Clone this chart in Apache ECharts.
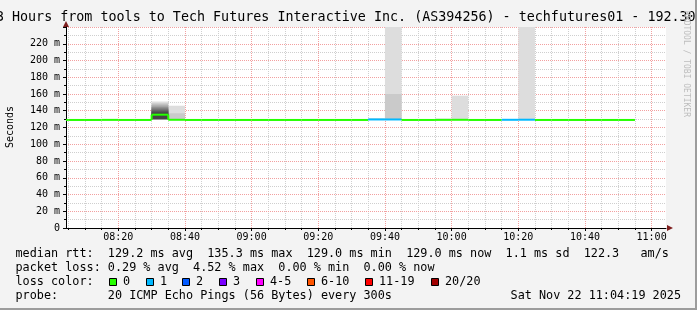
<!DOCTYPE html>
<html><head><meta charset="utf-8">
<script src="https://cdn.jsdelivr.net/npm/echarts@6/dist/echarts.min.js"></script>
<style>
html,body{margin:0;padding:0;background:#f3f3f3;}
#wrap{position:relative;width:697px;height:310px;overflow:hidden;}
#chart{width:697px;height:310px;}
#frame{position:absolute;left:0;top:0;width:697px;height:310px;box-sizing:border-box;border-right:2px solid #9c9c9c;border-bottom:2px solid #9c9c9c;pointer-events:none;}
</style></head><body>
<div id="wrap"><div id="chart"></div><div id="frame"></div></div>
<script>
// ---------- data ----------
const startTime = "08:04:19";           // left edge of the 3 hour window
const tickLabels = ["08:20","08:40","09:00","09:20","09:40","10:00","10:20","10:40","11:00"];
const stepLabels = ["08:00","08:05","08:10","08:15","08:20","08:25","08:30","08:35","08:40","08:45","08:50","08:55",
                    "09:00","09:05","09:10","09:15","09:20","09:25","09:30","09:35","09:40","09:45","09:50","09:55",
                    "10:00","10:05","10:10","10:15","10:20","10:25","10:30","10:35","10:40","10:45","10:50"];
const medianMs  = [129.0,129.0,129.0,129.1,129.0,129.0,135.3,129.2,129.0,129.0,129.0,129.0,
                   129.0,129.0,129.0,129.0,129.0,129.0,129.0,129.6,129.6,129.0,129.0,129.1,
                   129.2,129.0,129.0,129.2,129.3,129.0,129.0,129.0,129.0,129.0,129.0];
const lossCount = [0,0,0,0,0,0,0,0,0,0,0,0,
                   0,0,0,0,0,0,0,1,1,0,0,0,
                   0,0,0,1,1,0,0,0,0,0,0];
// sorted round-trip times (ms) of the 20 pings for the steps that show smoke
const smokeSteps = ["08:30","08:35","09:35","09:40","09:55","10:00","10:20"];
const smokePings = [
  [129.4,129.5,129.6,129.7,129.8,129.9,130.0,130.1,130.2,134.5,136.1,138.0,140.0,141.5,143.0,144.5,146.0,147.5,149.0,151.0],
  [128.9,129.0,129.0,129.1,129.1,129.1,129.1,129.2,129.2,129.2,129.2,129.3,129.3,129.3,129.4,129.4,129.5,129.6,137.0,146.0],
  [129.2,129.3,129.3,129.4,129.4,129.5,129.5,129.5,129.6,129.6,129.6,129.7,129.7,129.7,129.8,129.8,129.9,130.0,130.3,131.3],
  [129.2,129.3,129.3,129.4,129.4,129.5,129.5,129.5,129.6,129.6,129.6,129.7,129.7,129.7,129.8,129.8,129.9,130.0,160.0,320.0],
  [128.9,129.0,129.0,129.0,129.1,129.1,129.1,129.1,129.1,129.1,129.1,129.2,129.2,129.2,129.2,129.3,129.3,129.4,129.6,130.8],
  [128.9,129.0,129.0,129.1,129.1,129.1,129.2,129.2,129.2,129.2,129.2,129.3,129.3,129.3,129.4,129.4,129.5,129.6,130.0,158.0],
  [129.0,129.0,129.1,129.1,129.2,129.2,129.2,129.3,129.3,129.3,129.3,129.4,129.4,129.4,129.5,129.5,129.6,129.7,130.0,300.0]
];
const medianStats = ["129.2 ms avg","135.3 ms max","129.0 ms min","129.0 ms now","1.1 ms sd","122.3   am/s"];
const lossStats   = ["0.29 % avg","4.52 % max","0.00 % min","0.00 % now"];
const lossLabels  = ["0","1","2","3","4-5","6-10","11-19","20/20"];
const lossUpper   = [0,1,2,3,5,10,19,20];
const lossColors  = ["#26ff00","#00b8ff","#0059ff","#7a00ff","#ff00ff","#ff5500","#ff0000","#a10000"];
const probeText = "20 ICMP Echo Pings (56 Bytes) every 300s";
const dateText  = "Sat Nov 22 11:04:19 2025";
const titleText = "3 Hours from tools to Tech Futures Interactive Inc. (AS394256) - techfutures01 - 192.30.";

// ---------- helpers ----------
function toMin(s){ const p = s.split(':').map(Number); return (p[0]-8)*60 + p[1] + (p[2]||0)/60; }
const STEP = 5;
const xMin = toMin(startTime), xMax = xMin + 180;
const majorTicks = tickLabels.map(toMin);
const minorTicks = [];
for (let t = Math.ceil(xMin/STEP)*STEP; t <= xMax; t += STEP) minorTicks.push(t);
function fmt(v){ const h = 8 + Math.floor(Math.round(v)/60), m = Math.round(v)%60; return String(h).padStart(2,'0')+':'+String(m).padStart(2,'0'); }
function lossIdx(l){ for (let i=0;i<lossUpper.length;i++) if (l <= lossUpper[i]) return i; return lossUpper.length-1; }

const medianData = stepLabels.map((s,i)=>{ const t=toMin(s); return [t, t+STEP, medianMs[i], i>0?medianMs[i-1]:medianMs[i], lossCount[i]]; });
const smokeData = [];
smokeSteps.forEach((s,k)=>{
  const t=toMin(s), p=smokePings[k], n=p.length, half=n/2;
  for (let ibot=1; ibot<=half; ibot++){
    const shade = Math.floor(190/half*(half-ibot))+50;
    smokeData.push([t, t+STEP, p[ibot-1], p[n-ibot], shade, ibot]);
  }
});

const MONO = "'DejaVu Sans Mono', monospace";
const chart = echarts.init(document.getElementById('chart'), null, {renderer:'canvas'});
const minorGrid = {show:true, lineStyle:{color:'#cfcfcf', width:1, type:[1,1]}};
const majorGrid = {show:true, lineStyle:{color:'#f2a0a0', width:1, type:[1,1]}};

const graphics = [];
graphics.push({type:'text', x:-4.1, y:18, style:{text:titleText, font:"13.36px "+MONO, fill:'#000', align:'left', verticalAlign:'middle'}});
graphics.push({type:'text', x:10.5, y:127, rotation:Math.PI/2, style:{text:'Seconds', font:"10px "+MONO, fill:'#000', align:'center', verticalAlign:'middle'}});
graphics.push({type:'text', x:686.5, y:64, rotation:-Math.PI/2, style:{text:'RRDTOOL / TOBI OETIKER', font:"8px "+MONO, fill:'#bdbdbd', align:'center', verticalAlign:'middle'}});
const LF = "11.8px "+MONO, LX = 15.5;
graphics.push({type:'text', x:LX, y:254.3, style:{text:'median rtt:  '+medianStats.join('  '), font:LF, fill:'#000', align:'left', verticalAlign:'middle'}});
graphics.push({type:'text', x:LX, y:268.3, style:{text:'packet loss: '+lossStats.join('  '), font:LF, fill:'#000', align:'left', verticalAlign:'middle'}});
graphics.push({type:'text', x:LX, y:282.2, style:{text:'loss color:', font:LF, fill:'#000', align:'left', verticalAlign:'middle'}});
graphics.push({type:'text', x:LX, y:296.2, style:{text:'probe:       '+probeText, font:LF, fill:'#000', align:'left', verticalAlign:'middle'}});
graphics.push({type:'text', x:681, y:296.2, style:{text:dateText, font:LF, fill:'#000', align:'right', verticalAlign:'middle'}});
const sqX = [109,146,182,219,256,307,365,431];
lossLabels.forEach((lab,i)=>{
  graphics.push({type:'rect', shape:{x:sqX[i]+0.5, y:278.5, width:7, height:7}, style:{fill:lossColors[i], stroke:'#000', lineWidth:1}});
  graphics.push({type:'text', x:sqX[i]+14, y:282.2, style:{text:lab, font:LF, fill:'#000', align:'left', verticalAlign:'middle'}});
});

chart.setOption({
  animation:false,
  backgroundColor:'#f3f3f3',
  grid:{left:66, right:31, top:27, bottom:82, show:true, backgroundColor:'#ffffff', borderWidth:0, outerBoundsMode:'none', containLabel:false},
  xAxis:[
    {type:'value', min:xMin, max:xMax, position:'bottom', z:1,
     axisLine:{show:true, onZero:false, lineStyle:{color:'#000', width:1}},
     axisTick:{show:true, length:3, customValues:majorTicks, lineStyle:{color:'#000'}},
     axisLabel:{show:true, customValues:majorTicks, formatter:fmt, margin:4, color:'#000', fontFamily:MONO, fontSize:10},
     splitLine:majorGrid},
    {type:'value', min:xMin, max:xMax, position:'bottom', z:0,
     axisLine:{show:true, onZero:false, symbol:['none','triangle'], symbolSize:[6,6], symbolOffset:[0,4], lineStyle:{color:'#7f1f1f', width:0}},
     axisTick:{show:true, length:2, customValues:minorTicks, lineStyle:{color:'#000'}},
     axisLabel:{show:false}, splitLine:minorGrid}
  ],
  yAxis:[
    {type:'value', min:0, max:240, interval:20, position:'left', z:1,
     axisLine:{show:true, onZero:false, lineStyle:{color:'#000', width:1}},
     axisTick:{show:true, length:3, lineStyle:{color:'#000'}},
     minorTick:{show:true, splitNumber:2, length:2, lineStyle:{color:'#000'}},
     axisLabel:{show:true, margin:6, color:'#000', fontFamily:MONO, fontSize:10, formatter:v=> v===0?'0':(v>=240?'':v+' m')},
     splitLine:majorGrid, minorSplitLine:minorGrid},
    {type:'value', min:0, max:240, interval:20, position:'left', z:0,
     axisLine:{show:true, onZero:false, symbol:['none','triangle'], symbolSize:[6,6], symbolOffset:[0,3], lineStyle:{color:'#7f1f1f', width:0}},
     axisTick:{show:false}, axisLabel:{show:false}, splitLine:{show:false}}
  ],
  series:[
    {type:'custom', name:'smoke', xAxisIndex:0, yAxisIndex:0, clip:true, z:2, silent:true,
     data:smokeData,
     renderItem:function(params, api){
       const a = api.coord([api.value(0), api.value(3)]);
       const b = api.coord([api.value(1), api.value(2)]);
       const cs = params.coordSys;
       const r = echarts.graphic.clipRectByRect({x:a[0], y:a[1], width:b[0]-a[0], height:b[1]-a[1]}, {x:cs.x, y:cs.y, width:cs.width, height:cs.height});
       if (!r) return null;
       const g = api.value(4);
       return {type:'rect', z2:api.value(5), shape:r, style:{fill:'rgb('+g+','+g+','+g+')'}};
     }},
    {type:'custom', name:'median', xAxisIndex:0, yAxisIndex:0, clip:true, z:3, silent:true,
     data:medianData,
     renderItem:function(params, api){
       const t0=api.value(0), t1=api.value(1), v=api.value(2), pv=api.value(3);
       const color = lossColors[lossIdx(api.value(4))];
       const a = api.coord([t0, v]), b = api.coord([t1, v]), c = api.coord([t0, pv]);
       const ch = [{type:'line', shape:{x1:a[0], y1:a[1], x2:b[0], y2:b[1]}, style:{stroke:color, lineWidth:2}}];
       if (Math.abs(c[1]-a[1]) > 0.5) ch.push({type:'line', shape:{x1:a[0], y1:c[1], x2:a[0], y2:a[1]}, style:{stroke:color, lineWidth:2}});
       return {type:'group', children:ch};
     }}
  ],
  graphic:graphics
});
</script>
</body></html>
